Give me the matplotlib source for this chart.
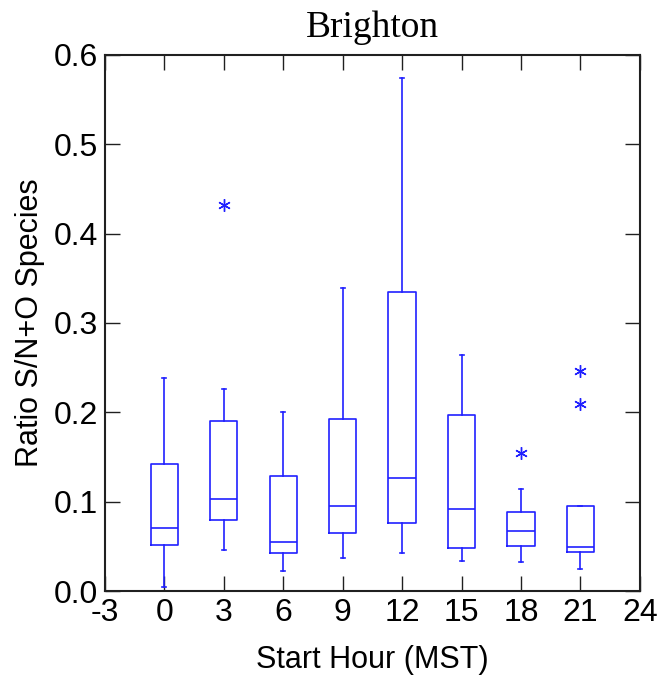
import matplotlib
matplotlib.use('Agg')
import matplotlib.pyplot as plt

# hours of day (MST) and box statistics
hours = [0, 3, 6, 9, 12, 15, 18, 21]
whislo = [0.004, 0.046, 0.022, 0.037, 0.042, 0.034, 0.032, 0.025]
q1 = [0.051, 0.079, 0.043, 0.065, 0.076, 0.048, 0.050, 0.044]
med = [0.071, 0.103, 0.055, 0.095, 0.126, 0.092, 0.067, 0.049]
q3 = [0.142, 0.190, 0.129, 0.193, 0.335, 0.197, 0.088, 0.095]
whishi = [0.238, 0.226, 0.200, 0.339, 0.574, 0.264, 0.114, 0.095]
fliers = [[], [0.432], [], [], [], [], [0.155], [0.246, 0.209]]

plt.rcParams['axes.unicode_minus'] = False
sans = 'Liberation Sans'
blue = '#2020ff'

stats = []
for i in range(len(hours)):
    stats.append(dict(whislo=whislo[i], q1=q1[i], med=med[i], q3=q3[i],
                      whishi=whishi[i], fliers=fliers[i]))

fig = plt.figure(figsize=(6.59, 6.77), dpi=100)
ax = fig.add_axes([0.159, 0.127, 0.812, 0.792])

line = dict(color=blue, linewidth=1.2)
ax.bxp(stats, positions=hours, widths=1.37, capwidths=0.2,
       boxprops=line, whiskerprops=line, capprops=line, medianprops=line,
       flierprops=dict(marker=(6, 2, 0), markeredgecolor=blue, markersize=9,
                       markeredgewidth=1.0, linestyle='none'),
       manage_ticks=False)

ax.set_xlim(-3, 24)
ax.set_ylim(0, 0.6)
ax.set_xticks(range(-3, 25, 3))
ax.set_yticks([0.0, 0.1, 0.2, 0.3, 0.4, 0.5, 0.6])
ax.set_yticklabels(['%.1f' % v for v in ax.get_yticks()])
ax.tick_params(direction='in', length=11, width=1.0, top=True, right=True,
               labelsize=23, pad=5, color='#202020')
for lab in ax.get_xticklabels() + ax.get_yticklabels():
    lab.set_fontfamily(sans)
for sp in ax.spines.values():
    sp.set_linewidth(1.5)
    sp.set_color('#202020')

ax.set_xlabel('Start Hour (MST)', fontsize=22, family=sans, labelpad=12)
ax.set_ylabel('Ratio S/N+O Species', fontsize=22, family=sans, labelpad=6)
ax.set_title('Brighton', fontsize=27, family='Liberation Serif', pad=13)

fig.savefig('out.png', dpi=100)
